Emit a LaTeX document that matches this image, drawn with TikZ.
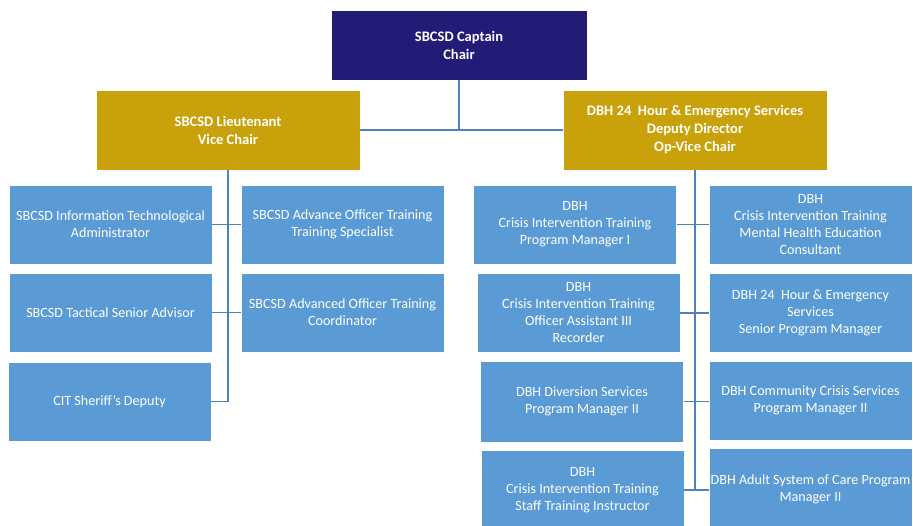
\documentclass[tikz,border=0pt]{standalone}
\usepackage{fontspec}
\setmainfont{Carlito}
\definecolor{navy}{HTML}{221C77}
\definecolor{gold}{HTML}{C9A10A}
\definecolor{sky}{HTML}{5B9BD5}
\definecolor{link}{HTML}{4F81BD}
\tikzset{
  base/.style={draw=white, line width=0.5pt, text=white, align=center, inner sep=1pt,
    font=\fontsize{10.6pt}{12.75pt}\selectfont},
  topbox/.style={base, fill=navy, font=\bfseries\fontsize{10.9pt}{13.5pt}\selectfont},
  vicebox/.style={base, fill=gold, font=\bfseries\fontsize{10.9pt}{13.5pt}\selectfont},
  memberbox/.style={base, fill=sky, minimum width=152.25pt, minimum height=59.25pt},
  wire/.style={draw=link, line width=1.1pt}
}
\begin{document}
\begin{tikzpicture}[x=0.75pt, y=-0.75pt]
\useasboundingbox (0,0) rectangle (913,525);
\clip (0,0) rectangle (913,525);
\fill[white] (0,0) rectangle (913,525);
% top levels
\node[topbox, minimum width=192pt, minimum height=52.5pt] (cap) at (459,45) {SBCSD Captain\\Chair};
\node[vicebox, minimum width=198pt, minimum height=60pt] (lt) at (228,130) {SBCSD Lieutenant\\Vice Chair};
\node[vicebox, minimum width=198pt, minimum height=60pt] (dd) at (695,130) {DBH 24\ \ Hour \& Emergency Services\\Deputy Director\\Op-Vice Chair};
% left group
\node[memberbox] (l1) at (110.5,224.5) {SBCSD Information Technological\\Administrator};
\node[memberbox] (l2) at (342.5,224.5) {SBCSD Advance Officer Training\\Training Specialist};
\node[memberbox] (l3) at (110.5,312.5) {SBCSD Tactical Senior Advisor};
\node[memberbox] (l4) at (342.5,312.5) {SBCSD Advanced Officer Training\\Coordinator};
\node[memberbox] (l5) at (109.5,401.5) {CIT Sheriff’s Deputy};
% right group
\node[memberbox] (r1) at (575,224.5) {DBH\\Crisis Intervention Training\\Program Manager I};
\node[memberbox] (s1) at (810.5,224.5) {DBH\\Crisis Intervention Training\\Mental Health Education\\Consultant};
\node[memberbox] (r2) at (578.5,313) {DBH\\Crisis Intervention Training\\Officer Assistant III\\Recorder};
\node[memberbox] (s2) at (810.5,313) {DBH 24\ \ Hour \& Emergency\\Services\\Senior Program Manager};
\node[memberbox, minimum height=60.75pt] (r3) at (582,401.5) {DBH Diversion Services\\Program Manager II};
\node[memberbox] (s3) at (810.5,400.5) {DBH Community Crisis Services\\Program Manager II};
\node[memberbox] (r4) at (582.5,490) {DBH\\Crisis Intervention Training\\Staff Training Instructor};
\node[memberbox, minimum height=61.5pt] (s4) at (810.5,489) {DBH Adult System of Care Program\\Manager II};
% connectors
\draw[wire] (cap.south) -- (cap.south |- lt.east);
\draw[wire] (lt.east) -- (dd.west);
\draw[wire] (lt.south) -- (lt.south |- l5.east) -- (l5.east);
\draw[wire] (l1.east) -- (l2.west);
\draw[wire] (l3.east) -- (l4.west);
\draw[wire] (dd.south) -- (dd.south |- r4.east) -- (r4.east);
\draw[wire] (r1.east) -- (r1.east -| s1.west);
\draw[wire] (r2.east) -- (r2.east -| s2.west);
\draw[wire] (r3.east) -- (r3.east -| s3.west);
\draw[wire] (dd.south |- r4.east) -- (dd.south |- r4.east -| s4.west);
\end{tikzpicture}
\end{document}
